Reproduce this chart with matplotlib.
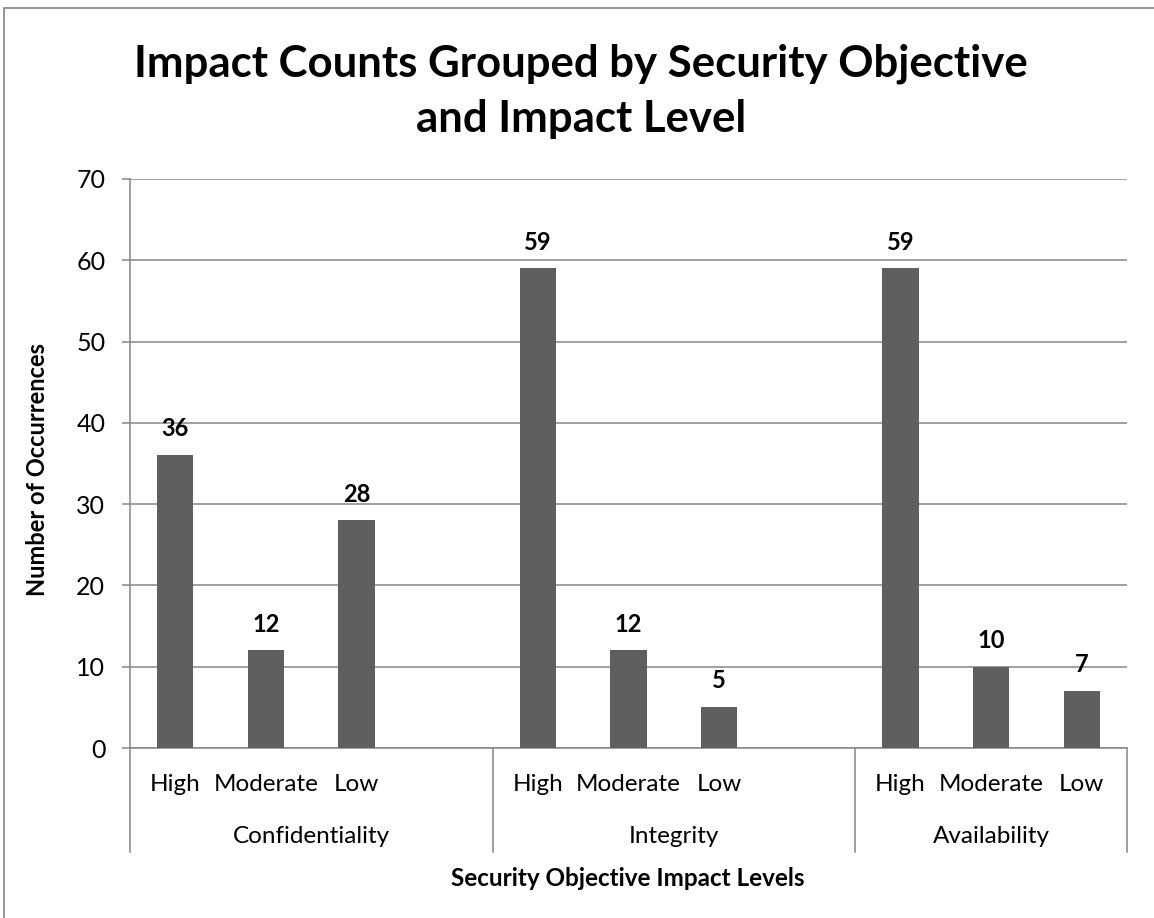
import matplotlib
matplotlib.use('Agg')
import matplotlib.pyplot as plt
from matplotlib.patches import Rectangle

# ---- data ----
objectives = ['Confidentiality', 'Integrity', 'Availability']
levels = ['High', 'Moderate', 'Low']
confidentiality = [36, 12, 28]
integrity = [59, 12, 5]
availability = [59, 10, 7]
y_ticks = [0, 10, 20, 30, 40, 50, 60, 70]
title = 'Impact Counts Grouped by Security Objective\nand Impact Level'
x_title = 'Security Objective Impact Levels'
y_title = 'Number of Occurrences'

series = [confidentiality, integrity, availability]

FONT = 'Lato'
plt.rcParams['font.family'] = [FONT, 'DejaVu Sans']
GRID = '#868686'
BAR = '#5f5f5f'

W, H = 1154, 918
fig = plt.figure(figsize=(W / 100, H / 100), dpi=100)
ax = fig.add_axes([130 / W, 1 - 748 / H, (1127 - 130) / W, (748 - 179) / H])

# outer chart frame (cropped at right/bottom)
fig.patches.append(Rectangle((4 / W, -0.05), 1.2, 1 - 8 / H + 0.05, transform=fig.transFigure,
                             fill=False, edgecolor='#8c8c8c', linewidth=1.3))

positions = []
labels = []
values = []
for g, (obj, vals) in enumerate(zip(objectives, series)):
    for i, (lv, v) in enumerate(zip(levels, vals)):
        positions.append(4 * g + i)
        labels.append(lv)
        values.append(v)

ax.bar(positions, values, width=0.4, color=BAR, zorder=3)
for x, v in zip(positions, values):
    ax.annotate(str(v), (x, v), xytext=(0, 19), textcoords='offset points',
                ha='center', va='center', fontsize=17, fontweight='bold', color='black')

ax.set_xlim(-0.5, 10.5)
ax.set_ylim(0, 70)
ax.set_yticks(y_ticks)
ax.yaxis.grid(True, color=GRID, linewidth=1.1, zorder=0)
ax.set_axisbelow(True)
ax.tick_params(axis='y', length=5.8, width=1.1, color=GRID, pad=12, labelsize=18)
ax.set_xticks(positions, labels)
ax.tick_params(axis='x', length=0, pad=19, labelsize=17.5)
for s in ['top', 'right']:
    ax.spines[s].set_visible(False)
for s in ['left', 'bottom']:
    ax.spines[s].set_color(GRID)
    ax.spines[s].set_linewidth(1.1)

# group separators and group labels
trans = ax.get_xaxis_transform()
ext = 104 / (748 - 179)
n_groups = len(objectives)
bounds = [-0.5]
for g in range(n_groups):
    last = 4 * g + len(levels) - 1
    bounds.append(last + (1.5 if g < n_groups - 1 else 0.5))
for b in bounds:
    ax.plot([b, b], [0, -ext], transform=trans, color=GRID, linewidth=1.1, clip_on=False)
for g, obj in enumerate(objectives):
    c = (bounds[g] + bounds[g + 1]) / 2
    ax.annotate(obj, (c, 0), xycoords=trans, xytext=(0, -64), textcoords='offset points',
                ha='center', va='center', fontsize=17.5)

fig.text(628 / W, 1 - 879 / H, x_title, ha='center', va='center', fontsize=17.5, fontweight='bold')
fig.text(38 / W, 1 - 469 / H, y_title, ha='center', va='center', rotation=90, fontsize=17,
         fontweight='bold')
fig.text(581 / W, 1 - 91 / H, title, ha='center', va='center', fontsize=31.5, fontweight='bold',
         linespacing=1.45)

fig.savefig('out.png', dpi=100)
